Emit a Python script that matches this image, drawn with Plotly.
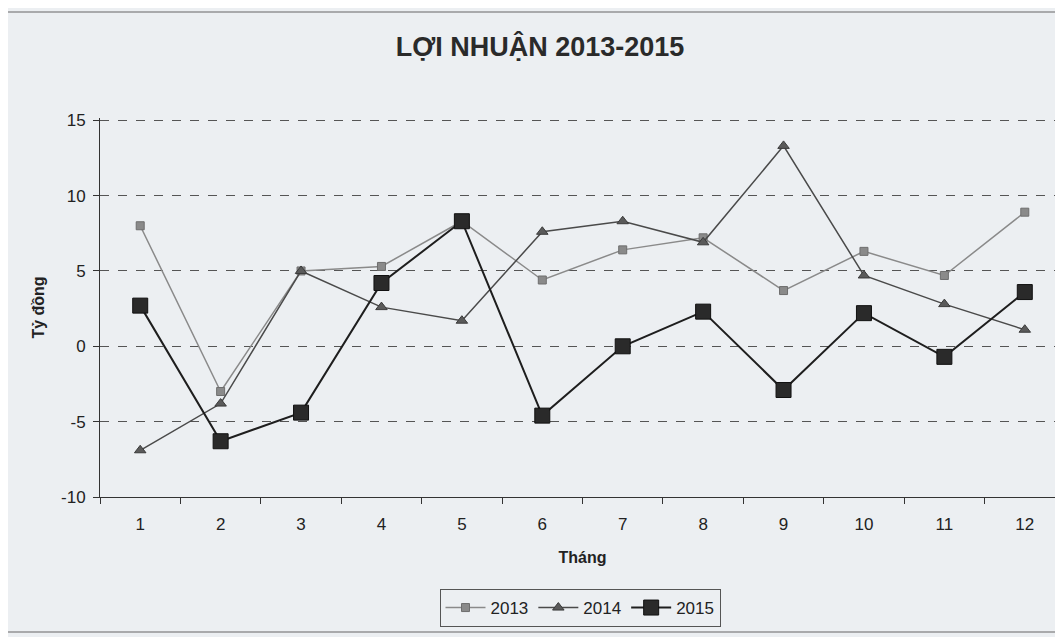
import plotly.graph_objects as go

months = [str(m) for m in range(1, 13)]
profit_2013 = [8.0, -3.0, 5.0, 5.3, 8.3, 4.4, 6.4, 7.2, 3.7, 6.3, 4.7, 8.9]
profit_2014 = [-6.9, -3.8, 5.0, 2.6, 1.7, 7.6, 8.3, 6.9, 13.3, 4.7, 2.8, 1.1]
profit_2015 = [2.7, -6.3, -4.4, 4.2, 8.3, -4.6, 0.0, 2.3, -2.9, 2.2, -0.7, 3.6]
y_ticks = [-10, -5, 0, 5, 10, 15]
y_tick_text = ["-10", "-5", "0", "5", "10", "15"]

# page body adds an 8px offset, so positions below are in figure pixels
W, H = 1063, 637
L, R, T, B = 92, 6, 110, 148
pw, ph = W - L - R, H - T - B

fig = go.Figure()

fig.add_trace(go.Scatter(
    x=months, y=profit_2013, name="2013", mode="lines+markers",
    line=dict(color="#8a8a8a", width=1.5),
    marker=dict(symbol="square", size=8, color="#8a8a8a",
                line=dict(color="#6e6e6e", width=1)),
))
fig.add_trace(go.Scatter(
    x=months, y=profit_2014, name="2014", mode="lines+markers",
    line=dict(color="#4a4a4a", width=1.5),
    marker=dict(symbol="triangle-up", size=10, color="#5a5a5a",
                line=dict(color="#3a3a3a", width=1)),
))
fig.add_trace(go.Scatter(
    x=months, y=profit_2015, name="2015", mode="lines+markers",
    line=dict(color="#1e1e1e", width=2),
    marker=dict(symbol="square", size=15, color="#2a2a2a",
                line=dict(color="#111111", width=1)),
))

# outer chart frame
fig.add_shape(type="rect", xref="paper", yref="paper",
              x0=(-3 - L) / pw, x1=1.05, y0=(H - B - 624) / ph, y1=(H - B - 4) / ph,
              line=dict(color="#666666", width=1.2), layer="below")

fig.update_layout(
    width=W, height=H,
    margin=dict(l=L, r=R, t=T, b=B),
    paper_bgcolor="#eceff2",
    plot_bgcolor="#eceff2",
    font=dict(family="Liberation Sans, Arial, sans-serif", size=16, color="#222222"),
    title=dict(text="<b>LỢI NHUẬN 2013-2015</b>", x=532 / W, xref="container",
               xanchor="center", y=1 - 39 / H, yanchor="middle",
               font=dict(size=27, color="#2a2a2a")),
    showlegend=True,
    legend=dict(orientation="h", x=(572 - L) / pw, xanchor="center",
                y=(H - B - 600) / ph, yanchor="middle",
                bordercolor="#555555", borderwidth=1, bgcolor="rgba(0,0,0,0)",
                font=dict(size=17), itemwidth=40),
    xaxis=dict(
        type="category", range=[-0.5, 11.5],
        title=dict(text="<b>Tháng</b>", standoff=18, font=dict(size=16)),
        showline=True, linecolor="#333333", linewidth=1,
        ticks="outside", tickson="boundaries", ticklen=6, tickcolor="#333333",
        showgrid=False, tickfont=dict(size=17), ticklabelstandoff=12,
    ),
    yaxis=dict(
        range=[-10, 15.15], tickvals=y_ticks, ticktext=y_tick_text,
        title=dict(text="<b>Tỷ đồng</b>", standoff=12, font=dict(size=16)),
        showline=True, linecolor="#333333", linewidth=1,
        ticks="outside", ticklen=6, tickcolor="#333333",
        showgrid=True, gridcolor="#555555", gridwidth=1, griddash="dash",
        zeroline=False, tickfont=dict(size=17), ticklabelstandoff=4,
    ),
)

fig.write_html("out.html")
